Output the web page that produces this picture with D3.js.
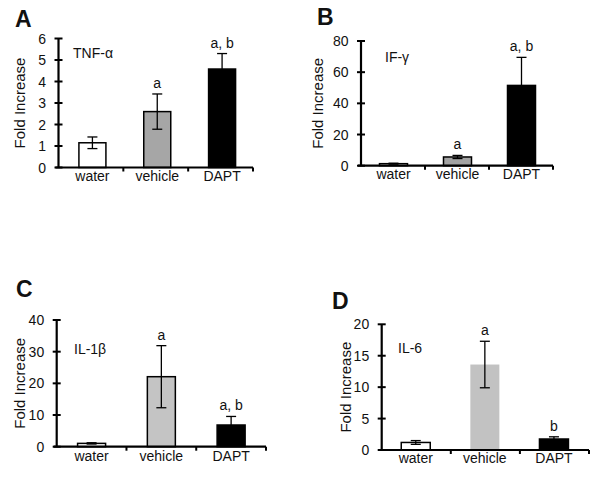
<!DOCTYPE html>
<html><head><meta charset="utf-8">
<script src="https://cdn.jsdelivr.net/npm/d3@7"></script>
<style>body{margin:0;background:#fff}svg{display:block}text{font-family:"Liberation Sans",Arial,sans-serif;fill:#111}</style>
</head><body><svg id="c" width="602" height="477"></svg>
<script>
const categories = ["water", "vehicle", "DAPT"];
const panelLetters = ["A", "B", "C", "D"];
const cytokines = ["TNF-α", "IF-γ", "IL-1β", "IL-6"];
const tnfMean = [1.15, 2.6, 4.58];
const tnfErr = [0.27, 0.82, 0.72];
const ifgMean = [1.3, 5.6, 51.5];
const ifgErr = [0.3, 1.0, 18];
const il1Mean = [1.05, 22.1, 6.85];
const il1Err = [0.2, 9.8, 2.7];
const il6Mean = [1.2, 13.6, 1.75];
const il6Err = [0.3, 3.7, 0.35];
const tnfTicks = [0, 1, 2, 3, 4, 5, 6];
const ifgTicks = [0, 20, 40, 60, 80];
const il1Ticks = [0, 10, 20, 30, 40];
const il6Ticks = [0, 5, 10, 15, 20];
const tnfSig = ["", "a", "a, b"];
const ifgSig = ["", "a", "a, b"];
const il1Sig = ["", "a", "a, b"];
const il6Sig = ["", "a", "b"];

const svg = d3.select("#c");

const layouts = [
  {axX:58.5, xEnd:253, yTop:38.5, y0:167.5, barW:27, off:1.5, letter:[15,27], ylab:24.5, cyto:[73,58], xlab:13.5, vehFill:"#a6a6a6", vehStroke:true},
  {axX:361, xEnd:553, yTop:41, y0:165.7, barW:28, off:0.5, letter:[317,25], ylab:323, cyto:[385,62], xlab:13.5, vehFill:"#a3a3a3", vehStroke:true},
  {axX:56.7, xEnd:266, yTop:320, y0:446.7, barW:28, off:0, letter:[16,297], ylab:25, cyto:[74,354], xlab:14.5, vehFill:"#c4c4c4", vehStroke:true},
  {axX:381.7, xEnd:589, yTop:324.3, y0:450, barW:29, off:-0.5, letter:[332,309], ylab:351, cyto:[398,353], xlab:12.5, vehFill:"#c2c2c2", vehStroke:false}
];
const means = [tnfMean, ifgMean, il1Mean, il6Mean];
const errs = [tnfErr, ifgErr, il1Err, il6Err];
const ticks = [tnfTicks, ifgTicks, il1Ticks, il6Ticks];
const sigs = [tnfSig, ifgSig, il1Sig, il6Sig];

layouts.forEach((L, p) => {
  const g = svg.append("g");
  const tk = ticks[p];
  const y = d3.scaleLinear().domain([0, tk[tk.length-1]]).range([L.y0, L.yTop]);
  const x = d3.scaleBand().domain(categories).range([L.axX, L.xEnd]).padding(0);
  const fills = ["#ffffff", L.vehFill, "#000000"];

  // bars
  categories.forEach((c, i) => {
    const cx = x(c) + x.bandwidth()/2 + L.off;
    const v = means[p][i];
    const r = g.append("rect")
      .attr("x", cx - L.barW/2).attr("width", L.barW)
      .attr("y", y(v)).attr("height", L.y0 - y(v))
      .attr("fill", fills[i]);
    if (i !== 1 || L.vehStroke) r.attr("stroke", "#000").attr("stroke-width", 1.5);
    // error bar
    const e = errs[p][i];
    const lo = Math.max(0, v - e), hi = v + e;
    g.append("line").attr("x1", cx).attr("x2", cx).attr("y1", y(lo)).attr("y2", y(hi))
      .attr("stroke", "#000").attr("stroke-width", 1.3);
    [hi, lo].forEach(t => g.append("line").attr("x1", cx-5).attr("x2", cx+5).attr("y1", y(t)).attr("y2", y(t))
      .attr("stroke", "#000").attr("stroke-width", 1.3));
    // significance
    if (sigs[p][i]) g.append("text").attr("x", cx).attr("y", y(hi) - 6)
      .attr("text-anchor", "middle").attr("font-size", 14).text(sigs[p][i]);
    // category label
    g.append("text").attr("x", cx).attr("y", L.y0 + L.xlab)
      .attr("text-anchor", "middle").attr("font-size", 14).text(c);
  });

  // y axis
  g.append("line").attr("x1", L.axX).attr("x2", L.axX).attr("y1", y(tk[tk.length-1])).attr("y2", L.y0)
    .attr("stroke", "#000").attr("stroke-width", 2.2);
  tk.forEach(t => {
    g.append("line").attr("x1", L.axX-4).attr("x2", L.axX+4).attr("y1", y(t)).attr("y2", y(t))
      .attr("stroke", "#000").attr("stroke-width", 2);
    g.append("text").attr("x", L.axX - 12.5).attr("y", y(t) + 5)
      .attr("text-anchor", "end").attr("font-size", 14).text(t);
  });
  // x axis
  g.append("line").attr("x1", L.axX - 3).attr("x2", L.xEnd).attr("y1", L.y0).attr("y2", L.y0)
    .attr("stroke", "#000").attr("stroke-width", 2.2);
  categories.forEach(c => {
    const xe = x(c) + x.bandwidth();
    g.append("line").attr("x1", xe).attr("x2", xe).attr("y1", L.y0).attr("y2", L.y0 + 4)
      .attr("stroke", "#000").attr("stroke-width", 2);
  });

  // y label
  g.append("text").attr("transform", `translate(${L.ylab},${(L.y0 + y(tk[tk.length-1]))/2}) rotate(-90)`)
    .attr("text-anchor", "middle").attr("font-size", 15).text("Fold Increase");
  // cytokine label
  g.append("text").attr("x", L.cyto[0]).attr("y", L.cyto[1]).attr("font-size", 14).text(cytokines[p]);
  // panel letter
  g.append("text").attr("x", L.letter[0]).attr("y", L.letter[1]).attr("font-size", 23)
    .attr("font-weight", "bold").text(panelLetters[p]);
});
</script></body></html>
